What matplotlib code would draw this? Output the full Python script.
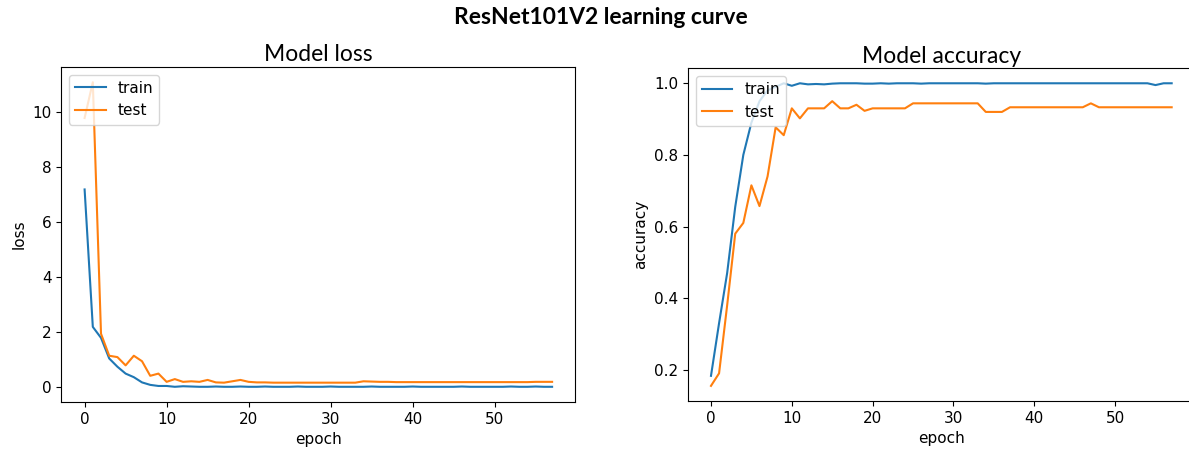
import matplotlib
matplotlib.use("Agg")
import matplotlib.pyplot as plt

# epochs 0..57
epochs = list(range(58))

loss_train = [7.2, 2.2, 1.8, 1.05, 0.75, 0.5, 0.37, 0.18, 0.09, 0.05,
              0.05, 0.02, 0.04, 0.03, 0.02, 0.02, 0.03, 0.02, 0.02, 0.03,
              0.02, 0.02, 0.03, 0.02, 0.02, 0.02, 0.03, 0.02, 0.02, 0.02,
              0.03, 0.02, 0.02, 0.02, 0.02, 0.03, 0.02, 0.02, 0.02, 0.02,
              0.03, 0.02, 0.02, 0.02, 0.02, 0.02, 0.03, 0.02, 0.02, 0.02,
              0.02, 0.02, 0.03, 0.02, 0.02, 0.03, 0.02, 0.02]
loss_test = [9.8, 11.1, 1.95, 1.15, 1.1, 0.8, 1.15, 0.95, 0.42, 0.5,
             0.2, 0.3, 0.2, 0.22, 0.2, 0.27, 0.18, 0.17, 0.22, 0.27,
             0.2, 0.18, 0.18, 0.17, 0.17, 0.17, 0.17, 0.17, 0.17, 0.17,
             0.17, 0.17, 0.17, 0.17, 0.22, 0.21, 0.2, 0.2, 0.19, 0.19,
             0.19, 0.19, 0.19, 0.19, 0.19, 0.19, 0.19, 0.19, 0.19, 0.19,
             0.19, 0.19, 0.19, 0.19, 0.19, 0.2, 0.2, 0.2]

acc_train = [0.183, 0.33, 0.47, 0.655, 0.80, 0.89, 0.95, 0.98, 0.99, 1.0,
             0.993, 1.0, 0.997, 0.998, 0.997, 0.999, 1.0, 1.0, 1.0, 0.999,
             0.999, 1.0, 0.999, 1.0, 1.0, 1.0, 0.999, 1.0, 1.0, 1.0,
             1.0, 1.0, 1.0, 1.0, 0.999, 1.0, 1.0, 1.0, 1.0, 1.0,
             1.0, 1.0, 1.0, 1.0, 1.0, 1.0, 1.0, 1.0, 1.0, 1.0,
             1.0, 1.0, 1.0, 1.0, 1.0, 0.995, 1.0, 1.0]
acc_test = [0.155, 0.19, 0.38, 0.58, 0.61, 0.715, 0.657, 0.74, 0.877, 0.855,
            0.93, 0.902, 0.93, 0.93, 0.93, 0.95, 0.93, 0.93, 0.94, 0.923,
            0.93, 0.93, 0.93, 0.93, 0.93, 0.944, 0.944, 0.944, 0.944, 0.944,
            0.944, 0.944, 0.944, 0.944, 0.92, 0.92, 0.92, 0.933, 0.933, 0.933,
            0.933, 0.933, 0.933, 0.933, 0.933, 0.933, 0.933, 0.944, 0.933, 0.933,
            0.933, 0.933, 0.933, 0.933, 0.933, 0.933, 0.933, 0.933]

plt.rcParams["font.size"] = 11

fig = plt.figure(figsize=(11.89, 4.51), dpi=100)
fig.text(0.505, 0.962, "ResNet101V2 learning curve", ha="center", va="center",
         family="Lato", fontweight="bold", fontsize=16.5)

ax1 = fig.add_axes([0.0515, 0.1086, 0.4325, 0.7428])
ax1.plot(epochs, loss_train, label="train")
ax1.plot(epochs, loss_test, label="test")
ax1.set_title("Model loss", family="Lato", fontsize=16.5, pad=4)
ax1.set_xlabel("epoch")
ax1.set_ylabel("loss")
ax1.set_yticks([0, 2, 4, 6, 8, 10])
ax1.legend(loc="upper left")

# right panel runs past the image edge in the reference, so no right spine
ax2 = fig.add_axes([0.5786, 0.1109, 0.4262, 0.738])
ax2.plot(epochs, acc_train, label="train")
ax2.plot(epochs, acc_test, label="test")
ax2.set_title("Model accuracy", family="Lato", fontsize=16.5, pad=4)
ax2.set_xlabel("epoch")
ax2.set_ylabel("accuracy")
ax2.spines["right"].set_visible(False)
ax2.legend(loc="upper left")

fig.savefig("out.png", dpi=100)
plt.close(fig)
